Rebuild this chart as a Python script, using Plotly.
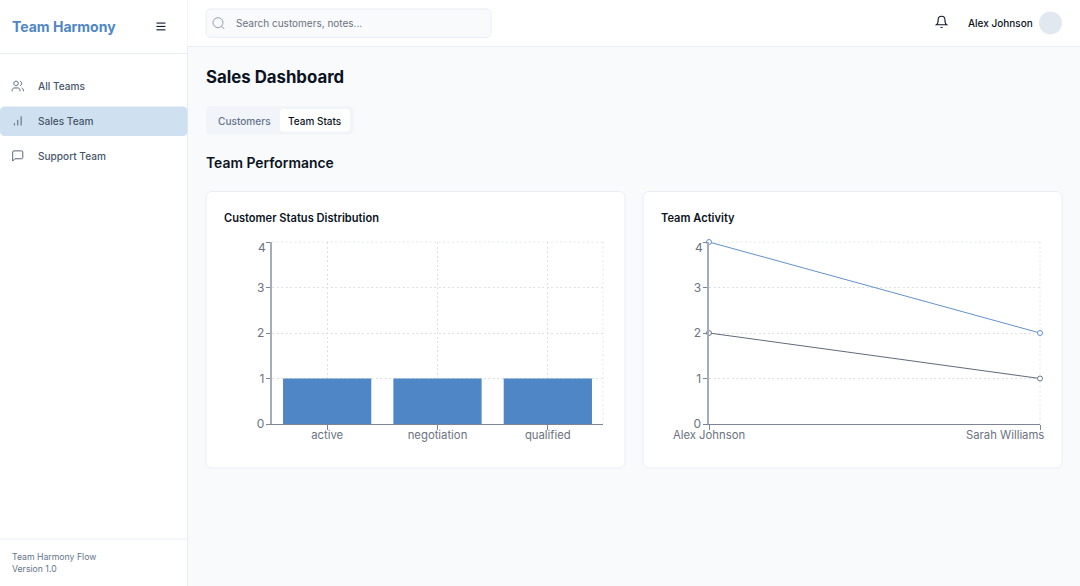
import re
import plotly.graph_objects as go

# ---- chart data ----
status_categories = ["active", "negotiation", "qualified"]
status_counts = [1, 1, 1]
team_members = ["Alex Johnson", "Sarah Williams"]
activity_customers = [4, 2]
activity_notes = [2, 1]
count_ticks = [0, 1, 2, 3, 4]
count_tick_labels = ["0", "1", "2", "3", ""]

W, H = 1080, 586
FONT = "Inter"
BLUE = "#4f86c6"
GREY_LINE = "#5f6b7a"
GRID = "#dce0e6"
AXIS_Y = "#a4acb9"
AXIS_X = "#7c8595"
TICK_TXT = "#6b7280"
TICK_SIZE = 11.3
COUNT_SIZE = 12
BORDER = "#e2e8f0"
BG = "#f8fafc"

px = lambda x: x / W
py = lambda y: 1 - y / H
shapes, notes = [], []


def rrect(x0, y0, x1, y1, r, fill, line=None, lw=0.75):
    k = r * 0.45
    d = (f"M{x0+r} {y0} L{x1-r} {y0} C{x1-k} {y0} {x1} {y0+k} {x1} {y0+r} "
         f"L{x1} {y1-r} C{x1} {y1-k} {x1-k} {y1} {x1-r} {y1} "
         f"L{x0+r} {y1} C{x0+k} {y1} {x0} {y1-k} {x0} {y1-r} "
         f"L{x0} {y0+r} C{x0} {y0+k} {x0+k} {y0} {x0+r} {y0} Z")
    shape_path(d, fill=fill, line=line, lw=lw)


def shape_path(d, fill=None, line=None, lw=0.75):
    toks = re.findall(r"[MLCQZ]|-?\d+\.?\d*", d)
    out, is_x = [], True
    for t in toks:
        if t in "MLCQZ":
            out.append(t)
            is_x = True
        else:
            v = float(t)
            out.append(f"{px(v):.6f}" if is_x else f"{py(v):.6f}")
            is_x = not is_x
    s = ""
    for t in out:
        s += t if t in "MLCQZ" else t + " "
    shapes.append(dict(type="path", xref="paper", yref="paper", path=s, layer="below",
                       fillcolor=fill or "rgba(0,0,0,0)",
                       line=dict(color=line or "rgba(0,0,0,0)", width=lw if line else 0)))


def icon(d, ox, oy, size, color, lw=0.9):
    s = size / 24
    toks = re.findall(r"[MLCQZ]|-?\d+\.?\d*", d)
    out, is_x = [], True
    for t in toks:
        if t in "MLCQZ":
            out.append(t)
            is_x = True
        else:
            v = float(t)
            out.append(f"{(ox + v * s) if is_x else (oy + v * s):.3f}")
            is_x = not is_x
    shape_path(" ".join(out), line=color, lw=lw)


def circle_path(cx, cy, r):
    k = r * 0.5523
    return (f"M{cx+r} {cy} C{cx+r} {cy+k} {cx+k} {cy+r} {cx} {cy+r} "
            f"C{cx-k} {cy+r} {cx-r} {cy+k} {cx-r} {cy} "
            f"C{cx-r} {cy-k} {cx-k} {cy-r} {cx} {cy-r} "
            f"C{cx+k} {cy-r} {cx+r} {cy-k} {cx+r} {cy} Z")


def label(text, x, y, size, color, weight=400, anchor="left"):
    notes.append(dict(text=text, x=px(x), y=py(y), xref="paper", yref="paper",
                      xanchor=anchor, yanchor="middle", showarrow=False,
                      borderpad=0, borderwidth=0,
                      font=dict(family=FONT, size=size, color=color, weight=weight)))


# ---- page chrome ----
rrect(0, -10, 187.5, 596, 0, "#ffffff")
shapes.append(dict(type="line", xref="paper", yref="paper", layer="below",
                   x0=px(187.5), x1=px(187.5), y0=0, y1=1, line=dict(color=BORDER, width=0.75)))
rrect(187.5, -5, 1085, 46.5, 0, "#ffffff")
for (a, b, yy) in [(187.5, 1080, 46.5), (0, 187.5, 53.5), (0, 187.5, 539)]:
    shapes.append(dict(type="line", xref="paper", yref="paper", layer="below",
                       x0=px(a), x1=px(b), y0=py(yy), y1=py(yy), line=dict(color=BORDER, width=0.75)))

rrect(0, 106.5, 187.5, 136, 4.5, "#cfe0f0")
rrect(206, 9, 491, 37.5, 4.5, BG, BORDER)
rrect(206, 106, 353.5, 134.5, 4.5, "#f1f5f9")
rrect(280, 109, 350, 131.5, 3, "#ffffff")
rrect(206, 191.5, 625, 468, 6, "#ffffff", BORDER)
rrect(643, 191.5, 1062, 468, 6, "#ffffff", BORDER)
shape_path(circle_path(1050.5, 23, 11.5), fill="#e2e8f0")

# icons (24-unit glyphs placed at pixel positions)
NAV = "#475569"
USERS = ["M16 21 L16 19 C16 16.8 14.2 15 12 15 L6 15 C3.8 15 2 16.8 2 19 L2 21",
         circle_path(9, 7, 4),
         "M22 21 L22 19 C22 17.2 20.8 15.6 19 15.13",
         "M16 3.13 C17.8 3.6 19 5.2 19 7 C19 8.8 17.8 10.4 16 10.88"]
for d in USERS:
    icon(d, 11, 79.5, 13.5, NAV)
for d in ["M12 20 L12 10", "M18 20 L18 4", "M6 20 L6 16"]:
    icon(d, 11, 114.2, 13.5, NAV)
icon("M21 15 C21 16.1 20.1 17 19 17 L7 17 L3 21 L3 5 C3 3.9 3.9 3 5 3 L19 3 C20.1 3 21 3.9 21 5 Z",
     11, 149.2, 13.5, NAV)
for d in ["M4 12 L20 12", "M4 6 L20 6", "M4 18 L20 18"]:
    icon(d, 154.2, 19.7, 13.5, "#0f172a", 1.1)
for d in [circle_path(11, 11, 8), "M21 21 L16.65 16.65"]:
    icon(d, 211.1, 15.8, 15, "#8a94a6", 0.9)
for d in ["M18 8 C18 4.69 15.31 2 12 2 C8.69 2 6 4.69 6 8 C6 15 3 17 3 17 L21 17 C21 17 18 15 18 8",
          "M13.73 21 C13 22.3 11 22.3 10.27 21"]:
    icon(d, 934.8, 15.2, 13.5, "#0f172a", 1.1)

# texts
INK = "#0b1322"
label("Team Harmony", 12, 26.4, 14, BLUE, 700)
label("All Teams", 38, 86.2, 10.1, NAV, 500)
label("Sales Team", 38, 121.2, 10.1, NAV, 500)
label("Support Team", 38, 156.2, 10.1, NAV, 500)
label("Team Harmony Flow", 12, 557, 8.7, "#64748b")
label("Version 1.0", 12, 568.6, 8.7, "#64748b")
label("Search customers, notes...", 236, 23.3, 10, "#6b7280")
label("Alex Johnson", 968, 23, 10, INK, 500)
label("Sales Dashboard", 206, 76.6, 16.8, INK, 700)
label("Customers", 217.5, 120.5, 10.1, "#64748b", 500)
label("Team Stats", 288, 120.5, 10, INK, 500)
label("Team Performance", 206, 163.3, 13.9, INK, 600)
label("Customer Status Distribution", 224, 218.3, 11.1, INK, 600)
label("Team Activity", 661, 218.3, 11.1, INK, 600)

# ---- figure ----
fig = go.Figure()
fig.add_trace(go.Bar(x=status_categories, y=status_counts, marker=dict(color=BLUE, line=dict(width=0)),
                     name="Customers", xaxis="x", yaxis="y", showlegend=False))
fig.add_trace(go.Scatter(x=team_members, y=activity_customers, mode="lines+markers", name="Customers",
                         line=dict(color=BLUE, width=0.9), cliponaxis=False,
                         marker=dict(size=5, color="#ffffff", line=dict(color=BLUE, width=0.9)),
                         xaxis="x2", yaxis="y2", showlegend=False))
fig.add_trace(go.Scatter(x=team_members, y=activity_notes, mode="lines+markers", name="Notes",
                         line=dict(color=GREY_LINE, width=1), cliponaxis=False,
                         marker=dict(size=5, color="#ffffff", line=dict(color=GREY_LINE, width=0.9)),
                         xaxis="x2", yaxis="y2", showlegend=False))


def xax(domain, rng, ticklabels, anchor):
    return dict(domain=domain, type="category", range=rng, anchor=anchor, automargin=False,
                tickmode="array", tickvals=ticklabels[0], ticktext=ticklabels[1],
                showline=True, linecolor=AXIS_X, linewidth=1, ticks="outside", ticklen=4.5,
                tickwidth=0.75, tickcolor=AXIS_X, showgrid=True, gridcolor=GRID, gridwidth=0.75,
                griddash="2.25px,2.25px", zeroline=False, ticklabelstandoff=-4,
                tickfont=dict(family=FONT, size=TICK_SIZE, color=TICK_TXT))


def yax(anchor, lw):
    return dict(domain=[py(424), py(242)], range=[0, 4], anchor=anchor, automargin=False,
                tickmode="array", tickvals=count_ticks, ticktext=count_tick_labels,
                showline=True, linecolor=AXIS_Y, linewidth=lw, ticks="outside", ticklen=4.5,
                tickwidth=0.75, tickcolor=AXIS_X, showgrid=True, gridcolor=GRID, gridwidth=0.75,
                griddash="2.25px,2.25px", zeroline=False, ticklabelstandoff=-1,
                tickfont=dict(family=FONT, size=COUNT_SIZE, color=TICK_TXT))


# bounds-shifted labels, as the original keeps them inside its box
for xr, yr in [("x", "y"), ("x2", "y2")]:
    notes.append(dict(text=str(count_ticks[-1]), xref=f"{xr} domain", yref=yr, x=0, y=count_ticks[-1],
                      xanchor="right", yanchor="middle", xshift=-6, yshift=-5.5, showarrow=False,
                      borderpad=0, borderwidth=0, font=dict(family=FONT, size=COUNT_SIZE, color=TICK_TXT)))
notes.append(dict(text=team_members[1], xref="x2", yref="y2", x=1, y=0, xanchor="right", yanchor="top",
                  xshift=4, yshift=-4.5, showarrow=False, borderpad=0, borderwidth=0,
                  font=dict(family=FONT, size=TICK_SIZE, color=TICK_TXT)))
# grid edges plotly leaves out at the ends of an axis
for xr, yr in [("x", "y"), ("x2", "y2")]:
    dash = dict(color=GRID, width=0.75, dash="2.25px,2.25px")
    shapes.append(dict(type="line", xref=f"{xr} domain", yref=f"{yr} domain", x0=1, x1=1, y0=0, y1=1,
                       layer="below", line=dash))
    shapes.append(dict(type="line", xref=f"{xr} domain", yref=f"{yr} domain", x0=0, x1=1, y0=1, y1=1,
                       layer="below", line=dash))

fig.update_layout(
    template="none",
    width=W, height=H, margin=dict(l=0, r=0, t=0, b=0, pad=0), autosize=False,
    paper_bgcolor=BG, plot_bgcolor="rgba(0,0,0,0)", bargap=0.2, showlegend=False,
    font=dict(family=FONT),
    xaxis=xax([px(272), px(603)], [-0.5, 2.5], (status_categories, status_categories), "y"),
    yaxis=yax("x", 1.5),
    xaxis2=xax([px(709), px(1040)], [0, 1], (team_members, [team_members[0], ""]), "y2"),
    yaxis2=yax("x2", 2),
    shapes=shapes, annotations=notes,
)
fig.write_html("out.html", config=dict(displayModeBar=False),
               post_script="document.body.style.margin='0';document.documentElement.style.overflow='hidden';document.body.style.overflow='hidden';")
